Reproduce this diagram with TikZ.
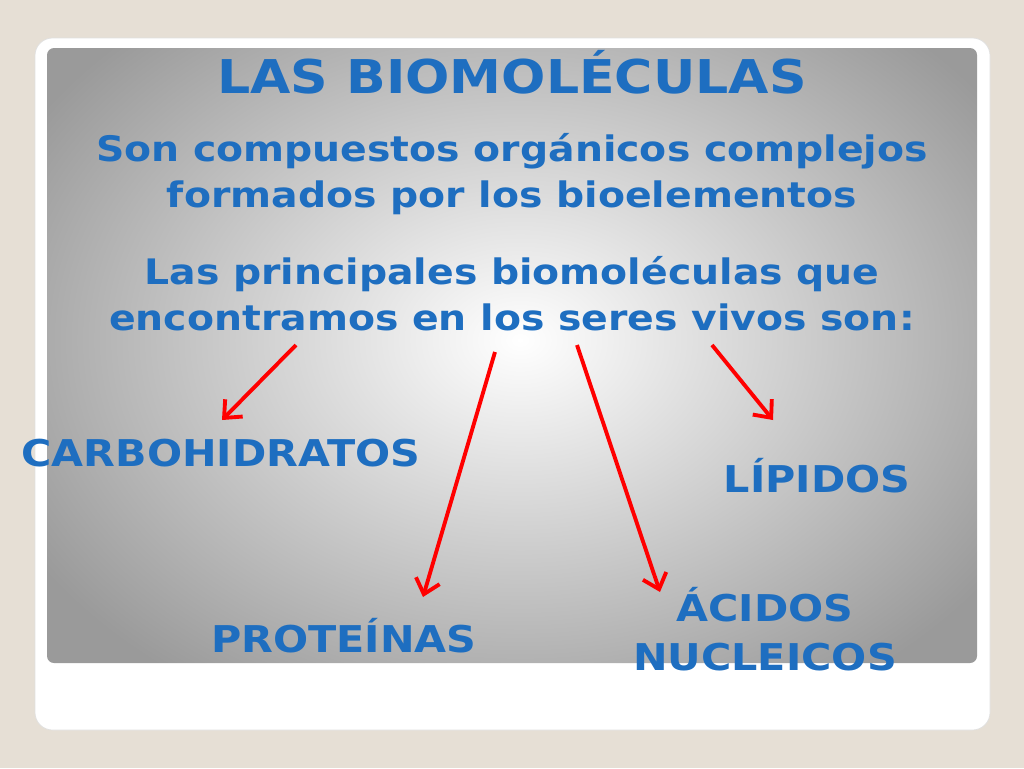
\documentclass[tikz,border=0pt]{standalone}
\usepackage{fontspec}
\setmainfont{DejaVu Sans}[FakeStretch=1.12]
\usetikzlibrary{arrows.meta}
\definecolor{bg}{HTML}{E6DFD5}
\definecolor{tblue}{HTML}{1E6EC0}
\definecolor{pgray}{HTML}{9A9A9A}
\begin{document}
\begin{tikzpicture}[x=0.02cm,y=-0.02cm,
  txt/.style={text=tblue,font=\bfseries,align=center,inner sep=0},
  arr/.style={draw=red,line width=2.2pt,-{Straight Barb[length=8pt,width=14pt,line width=2.2pt]}}]
\fill[bg] (0,0) rectangle (1024,768);
\useasboundingbox (0,0) rectangle (1024,768);
\fill[white,rounded corners=10pt,draw=black!12] (35,38) rectangle (990,730);
\begin{scope}
\clip[rounded corners=4pt] (47,48) rectangle (977,663);
\shade[inner color=white,outer color=pgray] (-50,-80) rectangle (1090,760);
\end{scope}
\node[txt,font=\bfseries\fontsize{26.5}{31}\selectfont] (t) at (512,72) {LAS BIOMOLÉCULAS};
\node[txt,font=\bfseries\fontsize{20}{26}\selectfont] (s1) at (512,174) {Son compuestos orgánicos complejos\\formados por los bioelementos};
\node[txt,font=\bfseries\fontsize{20}{26}\selectfont] (s2) at (512,294) {Las principales biomoléculas que\\encontramos en los seres vivos son:};
\tikzset{lab/.style={txt,font=\bfseries\fontsize{21}{28}\selectfont}}
\node[lab] (c) at (221,453) {CARBOHIDRATOS};
\node[lab] (l) at (817,476) {LÍPIDOS};
\node[lab] (p) at (344,636) {PROTEÍNAS};
\node[lab] (a) at (765,629) {ÁCIDOS\\NUCLEICOS};
\coordinate (c0) at (296,345); \coordinate (c1) at (222,420);
\coordinate (p0) at (495,352); \coordinate (p1) at (423,597);
\coordinate (a0) at (577,345); \coordinate (a1) at (660,592);
\coordinate (l0) at (712,345); \coordinate (l1) at (773,420);
\draw[arr] (c0) -- (c1);
\draw[arr] (p0) -- (p1);
\draw[arr] (a0) -- (a1);
\draw[arr] (l0) -- (l1);
\end{tikzpicture}
\end{document}
